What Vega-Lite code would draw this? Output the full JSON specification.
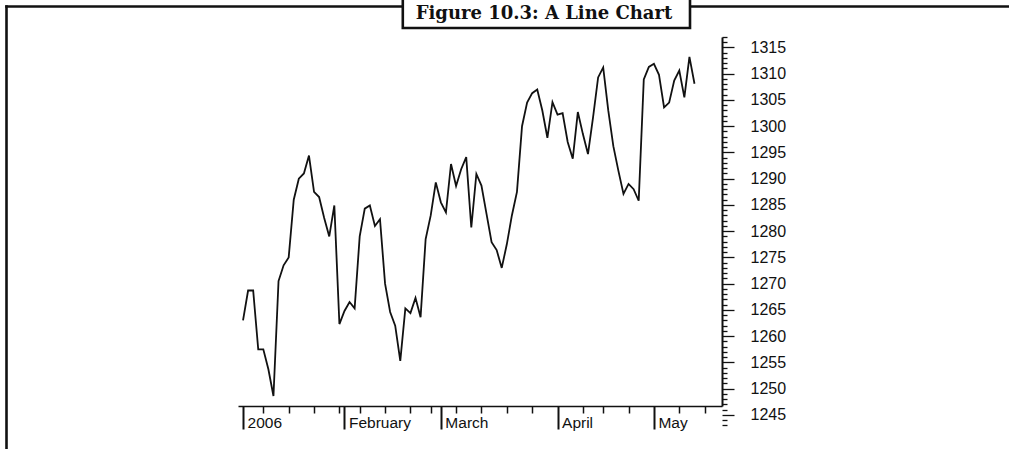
{
  "$schema": "https://vega.github.io/schema/vega-lite/v6.json",
  "width": 1009,
  "height": 449,
  "padding": 0,
  "autosize": "none",
  "background": "white",
  "config": {"view": {"stroke": null}, "axis": {"grid": false, "title": null}},
  "datasets": {
    "index": [
      {"d": 0, "v": 1263}, {"d": 1, "v": 1268.7}, {"d": 2, "v": 1268.7}, {"d": 3, "v": 1257.5}, {"d": 4, "v": 1257.5},
      {"d": 5, "v": 1253.7}, {"d": 6, "v": 1248.6}, {"d": 7, "v": 1270.5}, {"d": 8, "v": 1273.5}, {"d": 9, "v": 1275},
      {"d": 10, "v": 1286}, {"d": 11, "v": 1290}, {"d": 12, "v": 1291}, {"d": 13, "v": 1294.4}, {"d": 14, "v": 1287.5},
      {"d": 15, "v": 1286.5}, {"d": 16, "v": 1282.5}, {"d": 17, "v": 1279}, {"d": 18, "v": 1284.9}, {"d": 19, "v": 1262.3},
      {"d": 20, "v": 1264.8}, {"d": 21, "v": 1266.5}, {"d": 22, "v": 1265.3}, {"d": 23, "v": 1279}, {"d": 24, "v": 1284.3},
      {"d": 25, "v": 1284.9}, {"d": 26, "v": 1281}, {"d": 27, "v": 1282.3}, {"d": 28, "v": 1270}, {"d": 29, "v": 1264.6},
      {"d": 30, "v": 1262}, {"d": 31, "v": 1255.3}, {"d": 32, "v": 1265.3}, {"d": 33, "v": 1264.4}, {"d": 34, "v": 1267.3},
      {"d": 35, "v": 1263.6}, {"d": 36, "v": 1278.5}, {"d": 37, "v": 1283}, {"d": 38, "v": 1289.3}, {"d": 39, "v": 1285.5},
      {"d": 40, "v": 1283.6}, {"d": 41, "v": 1292.8}, {"d": 42, "v": 1288.6}, {"d": 43, "v": 1291.8}, {"d": 44, "v": 1294.1},
      {"d": 45, "v": 1280.7}, {"d": 46, "v": 1290.9}, {"d": 47, "v": 1288.7}, {"d": 48, "v": 1283.3}, {"d": 49, "v": 1277.9},
      {"d": 50, "v": 1276.4}, {"d": 51, "v": 1273}, {"d": 52, "v": 1277.5}, {"d": 53, "v": 1283}, {"d": 54, "v": 1287.5},
      {"d": 55, "v": 1300}, {"d": 56, "v": 1304.5}, {"d": 57, "v": 1306.3}, {"d": 58, "v": 1307}, {"d": 59, "v": 1303},
      {"d": 60, "v": 1297.8}, {"d": 61, "v": 1304.6}, {"d": 62, "v": 1302.2}, {"d": 63, "v": 1302.5}, {"d": 64, "v": 1297},
      {"d": 65, "v": 1293.8}, {"d": 66, "v": 1302.7}, {"d": 67, "v": 1298.5}, {"d": 68, "v": 1294.7}, {"d": 69, "v": 1301.7},
      {"d": 70, "v": 1309.3}, {"d": 71, "v": 1311.2}, {"d": 72, "v": 1303}, {"d": 73, "v": 1296.2}, {"d": 74, "v": 1291.5},
      {"d": 75, "v": 1287.1}, {"d": 76, "v": 1289}, {"d": 77, "v": 1288}, {"d": 78, "v": 1285.8}, {"d": 79, "v": 1308.9},
      {"d": 80, "v": 1311.3}, {"d": 81, "v": 1311.9}, {"d": 82, "v": 1309.8}, {"d": 83, "v": 1303.6}, {"d": 84, "v": 1304.5},
      {"d": 85, "v": 1308.7}, {"d": 86, "v": 1310.6}, {"d": 87, "v": 1305.5}, {"d": 88, "v": 1313.2}, {"d": 89, "v": 1308.1}
    ]
  },
  "layer": [
    {
      "data": {"values": [{"caption": "Figure 10.3: A Line Chart"}]},
      "layer": [
        {
          "mark": {"type": "rect", "fill": "white", "stroke": "#111", "strokeWidth": 2.6},
          "encoding": {
            "x": {"datum": 402.8, "type": "quantitative",
                  "scale": {"domain": [4.7, 1009], "range": [4.7, 1009], "nice": false, "zero": false},
                  "axis": {"orient": "top", "offset": -6, "domain": true, "domainWidth": 2.6, "domainColor": "#111", "ticks": false, "labels": false}},
            "x2": {"datum": 690},
            "y": {"datum": -6, "type": "quantitative",
                  "scale": {"domain": [4.7, 449], "range": [4.7, 449], "nice": false, "zero": false},
                  "axis": {"orient": "left", "offset": -6, "domain": true, "domainWidth": 2.6, "domainColor": "#111", "ticks": false, "labels": false}},
            "y2": {"datum": 28}
          }
        },
        {
          "mark": {"type": "text", "font": "DejaVu Serif", "fontWeight": "bold", "fontSize": 18, "align": "center", "baseline": "alphabetic", "color": "#111"},
          "encoding": {
            "x": {"datum": 544, "type": "quantitative"},
            "y": {"datum": 19, "type": "quantitative"},
            "text": {"field": "caption"}
          }
        }
      ]
    },
    {
      "data": {"name": "index"},
      "mark": {"type": "line", "opacity": 0},
      "encoding": {
        "x": {"field": "d", "type": "quantitative", "scale": {"domain": [-0.99, 94.42], "range": [238, 722], "nice": false, "zero": false}, "axis": null},
        "y": {"field": "v", "type": "quantitative",
              "scale": {"domain": [1246.7, 1317], "range": [406, 37], "nice": false, "zero": false},
              "axis": {"orient": "right", "offset": -287, "domain": true, "domainColor": "#111", "domainWidth": 2, "ticks": false, "labels": false}}
      }
    },
    {
      "data": {"name": "index"},
      "mark": {"type": "line", "color": "#111", "strokeWidth": 1.8},
      "encoding": {
        "x": {"field": "d", "type": "quantitative",
              "scale": {"domain": [-0.99, 94.42], "range": [238, 722], "nice": false, "zero": false},
              "axis": {"orient": "bottom", "offset": -43,
                       "values": [0, 4, 9, 14, 19, 20, 23, 28, 33, 37, 39, 42, 47, 52, 57, 62, 67, 71, 76, 81, 86, 91],
                       "labelExpr": "datum.value == 0 ? '2006' : datum.value == 20 ? 'February' : datum.value == 39 ? 'March' : datum.value == 62 ? 'April' : datum.value == 81 ? 'May' : ''",
                       "tickSize": {"condition": {"test": "indexof([0, 20, 39, 62, 81], datum.value) >= 0", "value": 23}, "value": 7},
                       "tickWidth": {"condition": {"test": "indexof([0, 20, 39, 62, 81], datum.value) >= 0", "value": 2}, "value": 1.5},
                       "tickColor": "#111", "domainColor": "#111", "domainWidth": 1.5,
                       "labelFont": "Liberation Sans", "labelFontSize": 15.5, "labelColor": "#111",
                       "labelAlign": "left", "labelBaseline": "alphabetic", "labelPadding": -2, "labelOffset": 4,
                       "labelOverlap": false, "labelFlush": false, "labelBound": false}},
        "y": {"field": "v", "type": "quantitative",
              "scale": {"domain": [1242.5, 1317], "range": [428, 37], "nice": false, "zero": false},
              "axis": {"orient": "right", "offset": -287, "domain": false,
                       "values": [1243, 1244, 1245, 1246, 1247, 1248, 1249, 1250, 1251, 1252, 1253, 1254, 1255, 1256, 1257, 1258, 1259, 1260, 1261, 1262, 1263, 1264, 1265, 1266, 1267, 1268, 1269, 1270, 1271, 1272, 1273, 1274, 1275, 1276, 1277, 1278, 1279, 1280, 1281, 1282, 1283, 1284, 1285, 1286, 1287, 1288, 1289, 1290, 1291, 1292, 1293, 1294, 1295, 1296, 1297, 1298, 1299, 1300, 1301, 1302, 1303, 1304, 1305, 1306, 1307, 1308, 1309, 1310, 1311, 1312, 1313, 1314, 1315, 1316, 1317],
                       "labelExpr": "datum.value % 5 == 0 ? '' + datum.value : ''",
                       "tickSize": {"condition": {"test": "datum.value % 5 == 0", "value": 12}, "value": 5},
                       "tickColor": "#111", "tickWidth": 1.3,
                       "labelFont": "Liberation Sans", "labelFontSize": 16, "labelColor": "#111",
                       "labelAlign": "left", "labelBaseline": "middle", "labelPadding": 16,
                       "labelOverlap": false, "labelFlush": false, "labelBound": false}}
      }
    }
  ],
  "resolve": {"scale": {"x": "independent", "y": "independent"}, "axis": {"x": "independent", "y": "independent"}}
}
